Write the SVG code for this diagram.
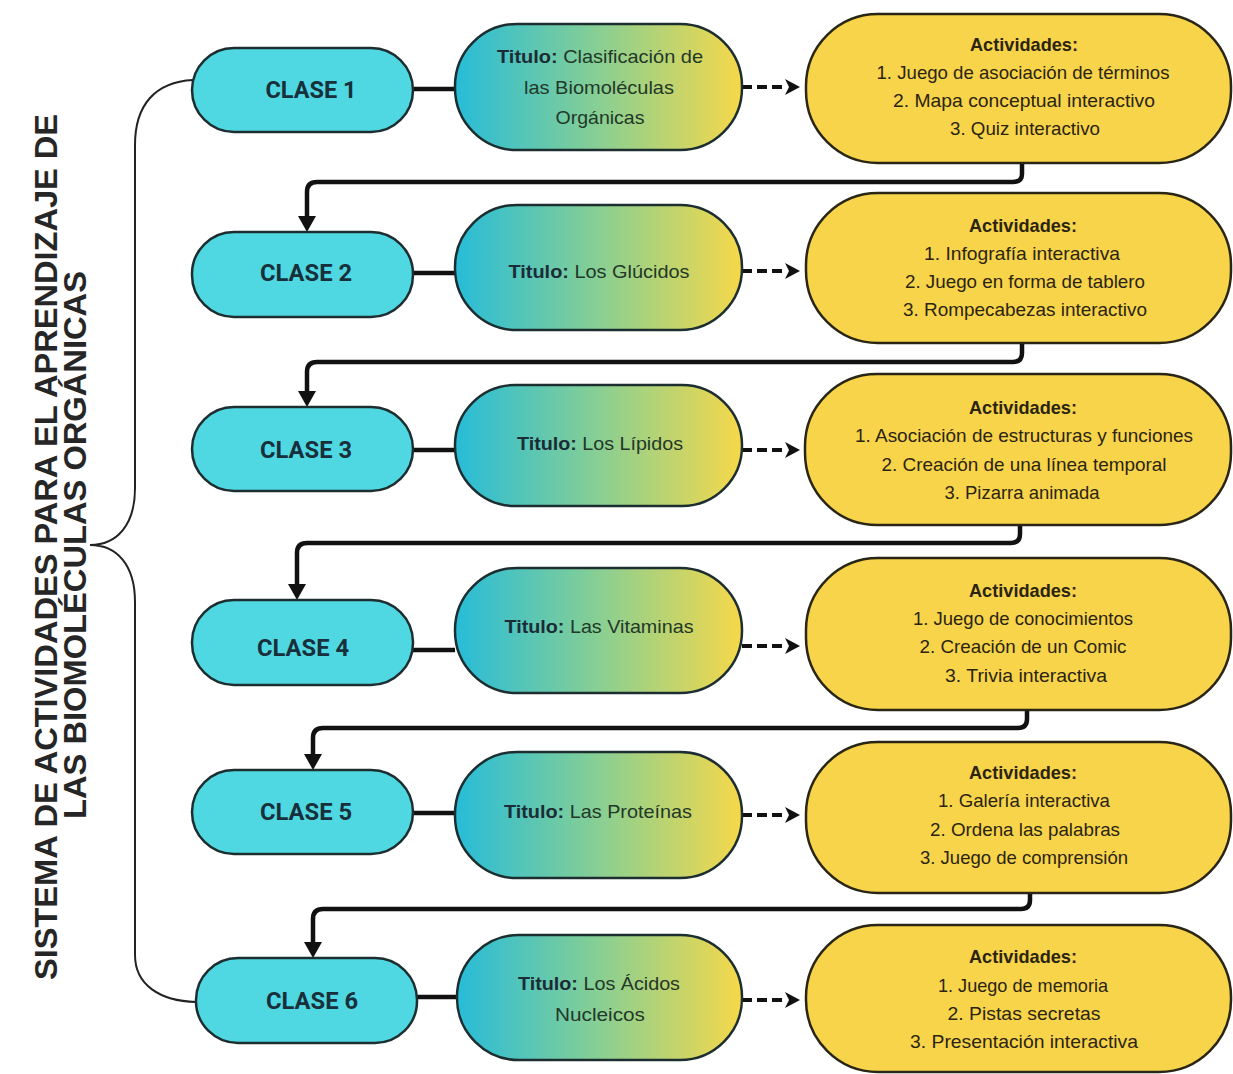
<svg xmlns="http://www.w3.org/2000/svg" width="1233" height="1074" viewBox="0 0 1233 1074">
<defs>
<linearGradient id="tg" x1="0" y1="0" x2="1" y2="0">
<stop offset="0" stop-color="#27bcd9"/>
<stop offset="0.5" stop-color="#88cf93"/>
<stop offset="1" stop-color="#f6d84a"/>
</linearGradient>
<style>
.cls{fill:#50d8e2;stroke:#1d2e30;stroke-width:2.5}
.ttl{fill:url(#tg);stroke:#1d2e30;stroke-width:2.5}
.act{fill:#f8d44a;stroke:#2a2615;stroke-width:2.5}
.ct{font-family:Roboto,"Liberation Sans",sans-serif;font-weight:700;font-size:24px;fill:#17303b;text-anchor:middle}
.tt{font-family:"Liberation Sans",Arial,sans-serif;font-size:18.5px;fill:#223829;text-anchor:middle}
.tb{font-weight:700;fill:#1b2c36}
.at{font-family:"Liberation Sans",Arial,sans-serif;font-size:18.5px;fill:#2b2410;text-anchor:middle}
.ah{font-weight:700}
.ln{fill:none;stroke:#111;stroke-width:4.5;stroke-linejoin:round}
.dl{fill:none;stroke:#111;stroke-width:4;stroke-dasharray:10 5}
.hd{fill:#111}
.br{fill:none;stroke:#222;stroke-width:2}
.side{font-family:"Liberation Sans",Arial,sans-serif;font-weight:700;font-size:31.5px;fill:#262626;text-anchor:middle}
</style>
</defs>
<rect width="1233" height="1074" fill="#ffffff"/>

<g id="side-title">
<text class="side" transform="translate(57,547) rotate(-90)" textLength="866" lengthAdjust="spacingAndGlyphs">SISTEMA DE ACTIVIDADES PARA EL APRENDIZAJE DE</text>
<text class="side" transform="translate(86,545) rotate(-90)" textLength="548" lengthAdjust="spacingAndGlyphs">LAS BIOMOLÉCULAS ORGÁNICAS</text>
</g>

<g id="brace">
<path class="br" d="M193,80 C155,82 135,105 135,145 L135,488 C135,525 117,545 90,545 C117,545 135,565 135,602 L135,955 C135,985 160,1001 196,1002"/>
</g>

<g id="connectors">
<path class="ln" d="M413,89 H455"/>
<path class="ln" d="M413,273 H455"/>
<path class="ln" d="M413,450 H455"/>
<path class="ln" d="M413,650 H455"/>
<path class="ln" d="M413,813 H455"/>
<path class="ln" d="M417,997 H457"/>
<path class="dl" d="M742,87 H786"/>
<path class="hd" d="M785,79 L800,87 L785,95 L789,87 Z"/>
<path class="dl" d="M742,271 H786"/>
<path class="hd" d="M785,263 L800,271 L785,279 L789,271 Z"/>
<path class="dl" d="M742,450 H786"/>
<path class="hd" d="M785,442 L800,450 L785,458 L789,450 Z"/>
<path class="dl" d="M742,646 H786"/>
<path class="hd" d="M785,638 L800,646 L785,654 L789,646 Z"/>
<path class="dl" d="M742,815 H786"/>
<path class="hd" d="M785,807 L800,815 L785,823 L789,815 Z"/>
<path class="dl" d="M742,1000 H786"/>
<path class="hd" d="M785,992 L800,1000 L785,1008 L789,1000 Z"/>
<path class="ln" d="M1022,163 V174 Q1022,182 1013,182 H317 Q307,182 307,192 V218"/>
<path class="hd" d="M298,216 L316,216 L307,232 Z"/>
<path class="ln" d="M1022,343 V353 Q1022,362 1013,362 H317 Q307,362 307,372 V393"/>
<path class="hd" d="M298,391 L316,391 L307,407 Z"/>
<path class="ln" d="M1020,525 V534 Q1020,543 1011,543 H307 Q297,543 297,553 V586"/>
<path class="hd" d="M288,584 L306,584 L297,600 Z"/>
<path class="ln" d="M1027,710 V719 Q1027,728 1018,728 H323 Q313,728 313,738 V756"/>
<path class="hd" d="M304,754 L322,754 L313,770 Z"/>
<path class="ln" d="M1030,893 V900 Q1030,909 1021,909 H323 Q313,909 313,919 V944"/>
<path class="hd" d="M304,942 L322,942 L313,958 Z"/>
</g>

<g id="clase1"><rect class="cls" x="192" y="48" width="221" height="84" rx="42"/><text class="ct" x="311" y="98" textLength="91" lengthAdjust="spacingAndGlyphs">CLASE 1</text></g>
<g id="clase2"><rect class="cls" x="192" y="232" width="221" height="85" rx="42"/><text class="ct" x="306" y="281" textLength="92" lengthAdjust="spacingAndGlyphs">CLASE 2</text></g>
<g id="clase3"><rect class="cls" x="192" y="407" width="221" height="84" rx="42"/><text class="ct" x="306" y="458" textLength="92" lengthAdjust="spacingAndGlyphs">CLASE 3</text></g>
<g id="clase4"><rect class="cls" x="192" y="600" width="221" height="85" rx="42"/><text class="ct" x="303" y="656" textLength="92" lengthAdjust="spacingAndGlyphs">CLASE 4</text></g>
<g id="clase5"><rect class="cls" x="192" y="770" width="221" height="84" rx="42"/><text class="ct" x="306" y="820" textLength="92" lengthAdjust="spacingAndGlyphs">CLASE 5</text></g>
<g id="clase6"><rect class="cls" x="196" y="958" width="221" height="85" rx="42"/><text class="ct" x="312" y="1009" textLength="92" lengthAdjust="spacingAndGlyphs">CLASE 6</text></g>

<g id="titulo1"><rect class="ttl" x="455" y="24" width="287" height="126" rx="62"/>
<text class="tt" x="600" y="63" textLength="206" lengthAdjust="spacingAndGlyphs"><tspan class="tb">Titulo:</tspan> Clasificación de</text>
<text class="tt" x="599" y="94" textLength="150" lengthAdjust="spacingAndGlyphs">las Biomoléculas</text>
<text class="tt" x="600" y="124" textLength="89" lengthAdjust="spacingAndGlyphs">Orgánicas</text></g>
<g id="titulo2"><rect class="ttl" x="455" y="205" width="287" height="125" rx="62"/>
<text class="tt" x="599" y="278" textLength="181" lengthAdjust="spacingAndGlyphs"><tspan class="tb">Titulo:</tspan> Los Glúcidos</text></g>
<g id="titulo3"><rect class="ttl" x="455" y="385" width="287" height="121" rx="60"/>
<text class="tt" x="600" y="450" textLength="166" lengthAdjust="spacingAndGlyphs"><tspan class="tb">Titulo:</tspan> Los Lípidos</text></g>
<g id="titulo4"><rect class="ttl" x="455" y="568" width="287" height="125" rx="62"/>
<text class="tt" x="599" y="633" textLength="189" lengthAdjust="spacingAndGlyphs"><tspan class="tb">Titulo:</tspan> Las Vitaminas</text></g>
<g id="titulo5"><rect class="ttl" x="455" y="752" width="287" height="126" rx="62"/>
<text class="tt" x="598" y="818" textLength="188" lengthAdjust="spacingAndGlyphs"><tspan class="tb">Titulo:</tspan> Las Proteínas</text></g>
<g id="titulo6"><rect class="ttl" x="457" y="935" width="285" height="125" rx="62"/>
<text class="tt" x="599" y="990" textLength="162" lengthAdjust="spacingAndGlyphs"><tspan class="tb">Titulo:</tspan> Los Ácidos</text>
<text class="tt" x="600" y="1021" textLength="90" lengthAdjust="spacingAndGlyphs">Nucleicos</text></g>

<g id="actividades1"><rect class="act" x="806" y="14" width="425" height="149" rx="72"/>
<text class="at ah" x="1024" y="51" textLength="108" lengthAdjust="spacingAndGlyphs">Actividades:</text>
<text class="at" x="1023" y="79" textLength="293" lengthAdjust="spacingAndGlyphs">1. Juego de asociación de términos</text>
<text class="at" x="1024" y="107" textLength="262" lengthAdjust="spacingAndGlyphs">2. Mapa conceptual interactivo</text>
<text class="at" x="1025" y="135" textLength="150" lengthAdjust="spacingAndGlyphs">3. Quiz interactivo</text></g>
<g id="actividades2"><rect class="act" x="806" y="193" width="425" height="150" rx="72"/>
<text class="at ah" x="1023" y="232" textLength="108" lengthAdjust="spacingAndGlyphs">Actividades:</text>
<text class="at" x="1022" y="260" textLength="196" lengthAdjust="spacingAndGlyphs">1. Infografía interactiva</text>
<text class="at" x="1025" y="288" textLength="240" lengthAdjust="spacingAndGlyphs">2. Juego en forma de tablero</text>
<text class="at" x="1025" y="316" textLength="244" lengthAdjust="spacingAndGlyphs">3. Rompecabezas interactivo</text></g>
<g id="actividades3"><rect class="act" x="805" y="374" width="426" height="151" rx="72"/>
<text class="at ah" x="1023" y="414" textLength="108" lengthAdjust="spacingAndGlyphs">Actividades:</text>
<text class="at" x="1024" y="442" textLength="338" lengthAdjust="spacingAndGlyphs">1. Asociación de estructuras y funciones</text>
<text class="at" x="1024" y="471" textLength="285" lengthAdjust="spacingAndGlyphs">2. Creación de una línea temporal</text>
<text class="at" x="1022" y="499" textLength="155" lengthAdjust="spacingAndGlyphs">3. Pizarra animada</text></g>
<g id="actividades4"><rect class="act" x="806" y="558" width="425" height="152" rx="72"/>
<text class="at ah" x="1023" y="597" textLength="108" lengthAdjust="spacingAndGlyphs">Actividades:</text>
<text class="at" x="1023" y="625" textLength="220" lengthAdjust="spacingAndGlyphs">1. Juego de conocimientos</text>
<text class="at" x="1023" y="653" textLength="207" lengthAdjust="spacingAndGlyphs">2. Creación de un Comic</text>
<text class="at" x="1026" y="682" textLength="162" lengthAdjust="spacingAndGlyphs">3. Trivia interactiva</text></g>
<g id="actividades5"><rect class="act" x="806" y="742" width="425" height="151" rx="72"/>
<text class="at ah" x="1023" y="779" textLength="108" lengthAdjust="spacingAndGlyphs">Actividades:</text>
<text class="at" x="1024" y="807" textLength="172" lengthAdjust="spacingAndGlyphs">1. Galería interactiva</text>
<text class="at" x="1025" y="836" textLength="190" lengthAdjust="spacingAndGlyphs">2. Ordena las palabras</text>
<text class="at" x="1024" y="864" textLength="208" lengthAdjust="spacingAndGlyphs">3. Juego de comprensión</text></g>
<g id="actividades6"><rect class="act" x="806" y="925" width="425" height="147" rx="72"/>
<text class="at ah" x="1023" y="963" textLength="108" lengthAdjust="spacingAndGlyphs">Actividades:</text>
<text class="at" x="1023" y="992" textLength="170" lengthAdjust="spacingAndGlyphs">1. Juego de memoria</text>
<text class="at" x="1024" y="1020" textLength="153" lengthAdjust="spacingAndGlyphs">2. Pistas secretas</text>
<text class="at" x="1024" y="1048" textLength="228" lengthAdjust="spacingAndGlyphs">3. Presentación interactiva</text></g>
</svg>
